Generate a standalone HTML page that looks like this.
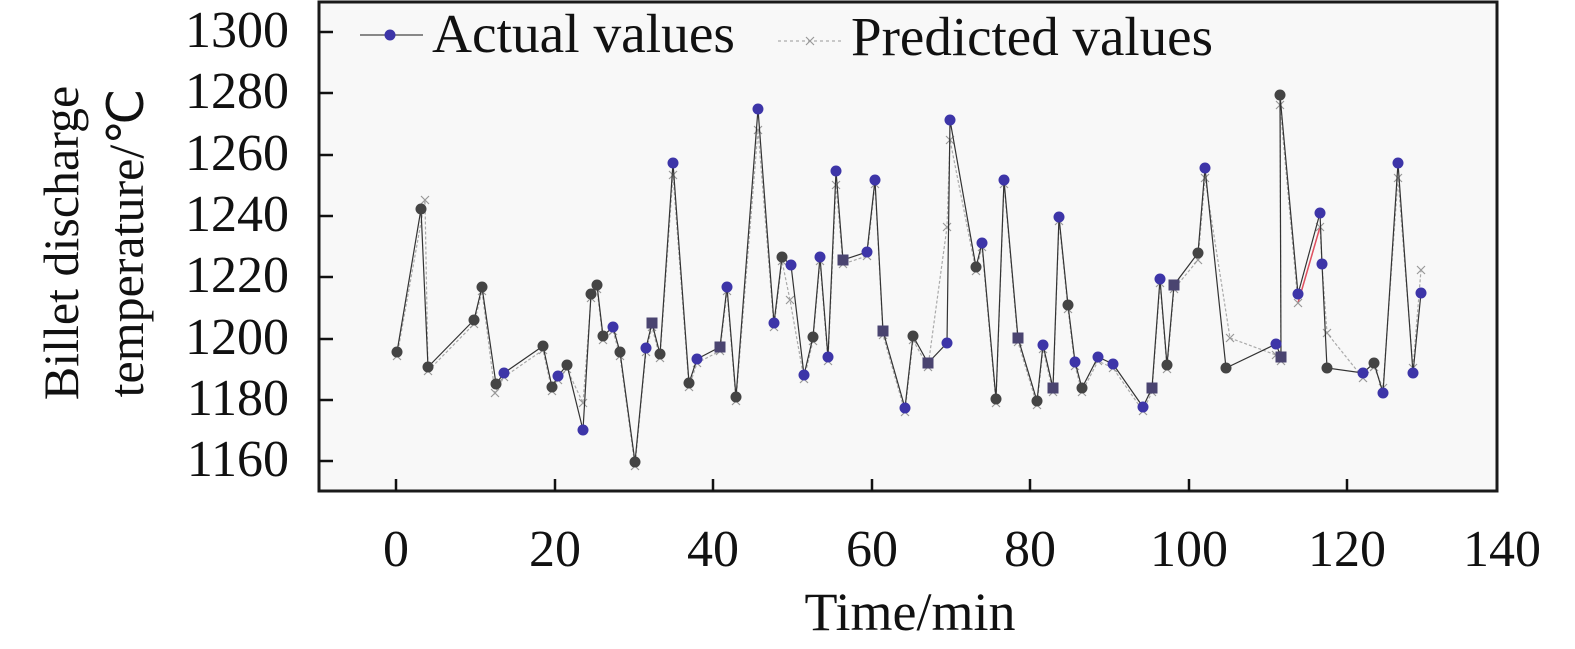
<!DOCTYPE html>
<html><head><meta charset="utf-8"><style>
html,body{margin:0;padding:0;background:#fff;}
svg{display:block;font-family:"Liberation Serif",serif;}
</style></head><body>
<svg width="1575" height="649" viewBox="0 0 1575 649" xmlns="http://www.w3.org/2000/svg">
<rect x="319" y="2" width="1178" height="489" fill="#f8f8f8" stroke="#1a1a1a" stroke-width="3"/>
<g stroke="#111" stroke-width="2.5">
<line x1="319" y1="32" x2="333" y2="32"/><line x1="319" y1="93" x2="333" y2="93"/><line x1="319" y1="155" x2="333" y2="155"/><line x1="319" y1="216" x2="333" y2="216"/><line x1="319" y1="277" x2="333" y2="277"/><line x1="319" y1="339" x2="333" y2="339"/><line x1="319" y1="400" x2="333" y2="400"/><line x1="319" y1="461" x2="333" y2="461"/>
<line x1="396" y1="491" x2="396" y2="479"/><line x1="555" y1="491" x2="555" y2="479"/><line x1="713" y1="491" x2="713" y2="479"/><line x1="872" y1="491" x2="872" y2="479"/><line x1="1030" y1="491" x2="1030" y2="479"/><line x1="1189" y1="491" x2="1189" y2="479"/><line x1="1347" y1="491" x2="1347" y2="479"/>
</g>
<g font-size="52" fill="#111" text-anchor="end">
<text x="289" y="47">1300</text><text x="289" y="108">1280</text><text x="289" y="170">1260</text><text x="289" y="231">1240</text><text x="289" y="292">1220</text><text x="289" y="354">1200</text><text x="289" y="415">1180</text><text x="289" y="476">1160</text>
</g>
<g font-size="52" fill="#111" text-anchor="middle">
<text x="396" y="566">0</text><text x="555" y="566">20</text><text x="713" y="566">40</text><text x="872" y="566">60</text><text x="1030" y="566">80</text><text x="1189" y="566">100</text><text x="1347" y="566">120</text><text x="1502" y="566">140</text>
<text x="910" y="630" font-size="54">Time/min</text>
</g>
<g font-size="50" fill="#111" text-anchor="middle">
<text transform="translate(78,243) rotate(-90)">Billet discharge</text>
<text transform="translate(143,243) rotate(-90)">temperature/℃</text>
</g>
<g id="pred" fill="none"></g>
<g id="act"></g>
<g>
<line x1="360" y1="35" x2="423" y2="35" stroke="#444" stroke-width="1.2"/>
<circle cx="390" cy="35" r="5.5" fill="#3d35a8"/>
<text x="432" y="52" font-size="55" fill="#111" textLength="303" lengthAdjust="spacingAndGlyphs">Actual values</text>
<line x1="778" y1="41" x2="843" y2="41" stroke="#aaa" stroke-width="1.2" stroke-dasharray="3,3"/>
<path d="M806 37l8 8M814 37l-8 8" stroke="#999" stroke-width="1.2"/>
<text x="851" y="55" font-size="55" fill="#111" textLength="362" lengthAdjust="spacingAndGlyphs">Predicted values</text>
</g>
<script>
var A=[[397,352,0],[421,209,0],[428,367,0],[474,320,0],[482,287,0],[496,384,0],[504,373,1],[543,346,0],[552,387,0],[558,376,1],[567,365,0],[583,430,1],[591,294,0],[597,285,0],[603,336,0],[613,327,1],[620,352,0],[635,462,0],[646,348,1],[652,323,2],[660,354,0],[673,163,1],[689,383,0],[697,359,1],[720,347,2],[727,287,1],[736,397,0],[758,109,1],[774,323,1],[782,257,0],[791,265,1],[804,375,1],[813,337,0],[820,257,1],[828,357,1],[836,171,1],[843,260,2],[867,252,1],[875,180,1],[883,331,2],[905,408,1],[913,336,0],[928,363,2],[947,343,1],[950,120,1],[976,267,0],[982,243,1],[996,399,0],[1004,180,1],[1018,338,2],[1037,401,0],[1043,345,1],[1053,388,2],[1059,217,1],[1068,305,0],[1075,362,1],[1082,388,0],[1098,357,1],[1113,364,1],[1143,407,1],[1152,388,2],[1160,279,1],[1167,365,0],[1174,285,2],[1198,253,0],[1205,168,1],[1226,368,0],[1276,344,1],[1281,357,2],[1280,95,0],[1298,294,1],[1320,213,1],[1322,264,1],[1327,368,0],[1363,373,1],[1374,363,0],[1383,393,1],[1398,163,1],[1413,373,1],[1421,293,1]];
var P={1:[425,200],5:[495,393],11:[583,403],21:[673,175],27:[758,130],30:[790,300],35:[836,185],43:[947,227],44:[950,140],64:[1198,260],65:[1205,178],66:[1230,338],67:[1276,355],69:[1280,105],70:[1298,303],71:[1320,227],72:[1322,264],73:[1327,333],74:[1363,378],76:[1383,388],77:[1398,178],78:[1413,368],79:[1421,270]};
var ns="http://www.w3.org/2000/svg",pg=document.getElementById('pred'),ag=document.getElementById('act');
var pp=A.map(function(a,i){return P[i]?P[i]:[a[0],a[1]+4];});
var pl=document.createElementNS(ns,'polyline');pl.setAttribute('points',pp.map(function(p){return p.join(',')}).join(' '));
pl.setAttribute('stroke','#aaa');pl.setAttribute('stroke-width','1.2');pl.setAttribute('stroke-dasharray','3,2');pg.appendChild(pl);
var rl=document.createElementNS(ns,'line');rl.setAttribute('x1',1298);rl.setAttribute('y1',303);rl.setAttribute('x2',1320);rl.setAttribute('y2',227);rl.setAttribute('stroke','#e05060');rl.setAttribute('stroke-width','1.5');pg.appendChild(rl);
pp.forEach(function(p){var x=document.createElementNS(ns,'path');x.setAttribute('d','M'+(p[0]-4)+' '+(p[1]-4)+'l8 8M'+(p[0]+4)+' '+(p[1]-4)+'l-8 8');x.setAttribute('stroke','#999');x.setAttribute('stroke-width','1.2');pg.appendChild(x);});
var al=document.createElementNS(ns,'polyline');al.setAttribute('points',A.map(function(a){return a[0]+','+a[1]}).join(' '));
al.setAttribute('fill','none');al.setAttribute('stroke','#333');al.setAttribute('stroke-width','1.2');ag.appendChild(al);
A.forEach(function(a){var c;if(a[2]==2){c=document.createElementNS(ns,'rect');c.setAttribute('x',a[0]-5.5);c.setAttribute('y',a[1]-5.5);c.setAttribute('width',11);c.setAttribute('height',11);c.setAttribute('fill','#4a4470');}else{c=document.createElementNS(ns,'circle');c.setAttribute('cx',a[0]);c.setAttribute('cy',a[1]);c.setAttribute('r',5.5);c.setAttribute('fill',a[2]?'#3d35a8':'#444');}ag.appendChild(c);});
</script>
</svg>
</body></html>
